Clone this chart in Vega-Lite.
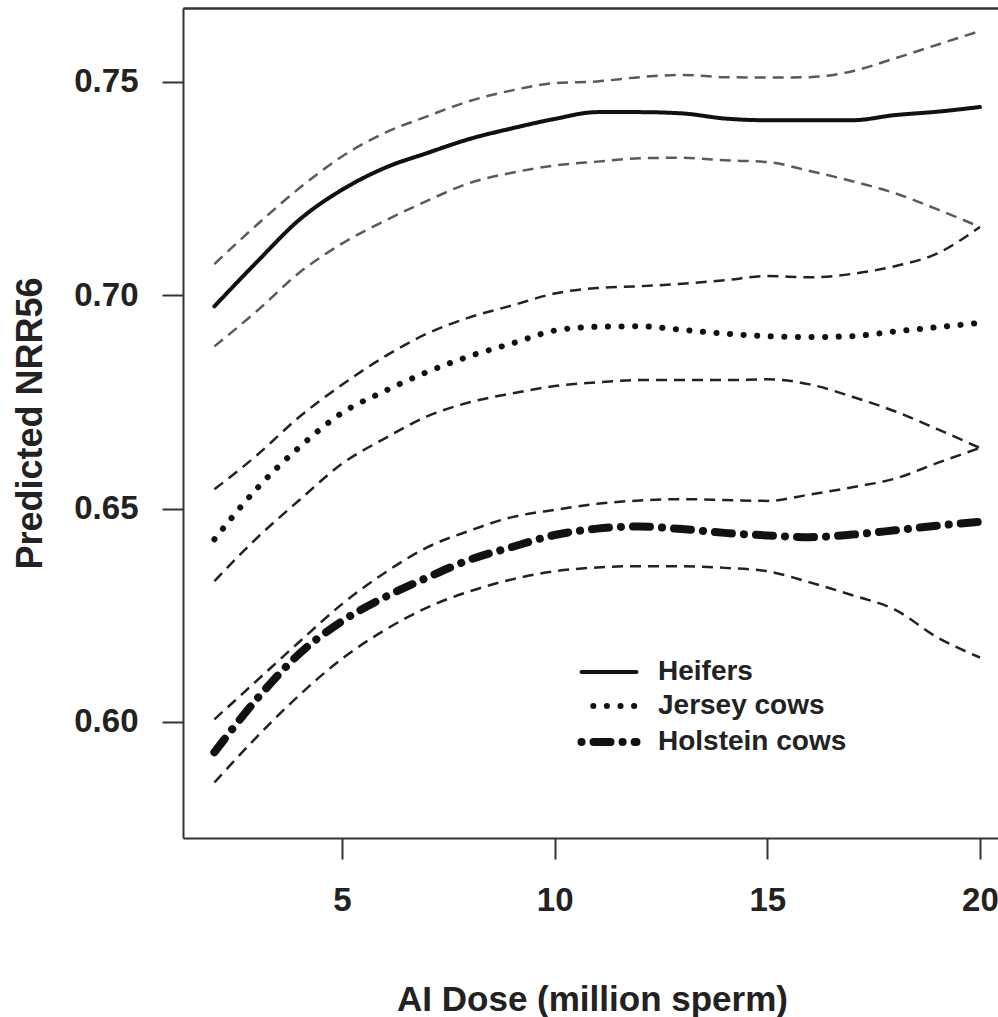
{
  "$schema": "https://vega.github.io/schema/vega-lite/v6.json",
  "width": 815,
  "height": 830,
  "autosize": "none",
  "padding": {"left": 183, "top": 8, "right": 0, "bottom": 179},
  "background": "white",
  "config": {
    "view": {"stroke": null},
    "font": "Liberation Sans",
    "axis": {"grid": false, "labelFont": "Liberation Sans", "titleFont": "Liberation Sans"}
  },
  "datasets": {
    "curves": [
      {"x":2,"y":0.6974,"s":"Heifers","k":"fit"},{"x":3,"y":0.7078,"s":"Heifers","k":"fit"},{"x":4,"y":0.7177,"s":"Heifers","k":"fit"},{"x":5,"y":0.7247,"s":"Heifers","k":"fit"},{"x":6,"y":0.7298,"s":"Heifers","k":"fit"},{"x":7,"y":0.7333,"s":"Heifers","k":"fit"},{"x":8,"y":0.7366,"s":"Heifers","k":"fit"},{"x":9,"y":0.7391,"s":"Heifers","k":"fit"},{"x":10,"y":0.7413,"s":"Heifers","k":"fit"},{"x":11,"y":0.7429,"s":"Heifers","k":"fit"},{"x":12,"y":0.7429,"s":"Heifers","k":"fit"},{"x":13,"y":0.7426,"s":"Heifers","k":"fit"},{"x":14,"y":0.7414,"s":"Heifers","k":"fit"},{"x":15,"y":0.7410,"s":"Heifers","k":"fit"},{"x":16,"y":0.7410,"s":"Heifers","k":"fit"},{"x":17,"y":0.7410,"s":"Heifers","k":"fit"},{"x":18,"y":0.7422,"s":"Heifers","k":"fit"},{"x":19,"y":0.7430,"s":"Heifers","k":"fit"},{"x":20,"y":0.7441,"s":"Heifers","k":"fit"},
      {"x":2,"y":0.7073,"s":"Heifers","k":"hi"},{"x":3,"y":0.7165,"s":"Heifers","k":"hi"},{"x":4,"y":0.7251,"s":"Heifers","k":"hi"},{"x":5,"y":0.7325,"s":"Heifers","k":"hi"},{"x":6,"y":0.7380,"s":"Heifers","k":"hi"},{"x":7,"y":0.7419,"s":"Heifers","k":"hi"},{"x":8,"y":0.7455,"s":"Heifers","k":"hi"},{"x":9,"y":0.7480,"s":"Heifers","k":"hi"},{"x":10,"y":0.7497,"s":"Heifers","k":"hi"},{"x":11,"y":0.7501,"s":"Heifers","k":"hi"},{"x":12,"y":0.7511,"s":"Heifers","k":"hi"},{"x":13,"y":0.7516,"s":"Heifers","k":"hi"},{"x":14,"y":0.7511,"s":"Heifers","k":"hi"},{"x":15,"y":0.7510,"s":"Heifers","k":"hi"},{"x":16,"y":0.7511,"s":"Heifers","k":"hi"},{"x":17,"y":0.7525,"s":"Heifers","k":"hi"},{"x":18,"y":0.7555,"s":"Heifers","k":"hi"},{"x":19,"y":0.7587,"s":"Heifers","k":"hi"},{"x":20,"y":0.7619,"s":"Heifers","k":"hi"},
      {"x":2,"y":0.6880,"s":"Heifers","k":"lo"},{"x":3,"y":0.6963,"s":"Heifers","k":"lo"},{"x":4,"y":0.7053,"s":"Heifers","k":"lo"},{"x":5,"y":0.7121,"s":"Heifers","k":"lo"},{"x":6,"y":0.7174,"s":"Heifers","k":"lo"},{"x":7,"y":0.7221,"s":"Heifers","k":"lo"},{"x":8,"y":0.7263,"s":"Heifers","k":"lo"},{"x":9,"y":0.7287,"s":"Heifers","k":"lo"},{"x":10,"y":0.7304,"s":"Heifers","k":"lo"},{"x":11,"y":0.7313,"s":"Heifers","k":"lo"},{"x":12,"y":0.7321,"s":"Heifers","k":"lo"},{"x":13,"y":0.7322,"s":"Heifers","k":"lo"},{"x":14,"y":0.7316,"s":"Heifers","k":"lo"},{"x":15,"y":0.7312,"s":"Heifers","k":"lo"},{"x":16,"y":0.7291,"s":"Heifers","k":"lo"},{"x":17,"y":0.7267,"s":"Heifers","k":"lo"},{"x":18,"y":0.7239,"s":"Heifers","k":"lo"},{"x":19,"y":0.7201,"s":"Heifers","k":"lo"},{"x":20,"y":0.7160,"s":"Heifers","k":"lo"},
      {"x":2,"y":0.6428,"s":"Jersey cows","k":"fit"},{"x":3,"y":0.6547,"s":"Jersey cows","k":"fit"},{"x":4,"y":0.6644,"s":"Jersey cows","k":"fit"},{"x":5,"y":0.6724,"s":"Jersey cows","k":"fit"},{"x":6,"y":0.6775,"s":"Jersey cows","k":"fit"},{"x":7,"y":0.6820,"s":"Jersey cows","k":"fit"},{"x":8,"y":0.6857,"s":"Jersey cows","k":"fit"},{"x":9,"y":0.6887,"s":"Jersey cows","k":"fit"},{"x":10,"y":0.6917,"s":"Jersey cows","k":"fit"},{"x":11,"y":0.6926,"s":"Jersey cows","k":"fit"},{"x":12,"y":0.6927,"s":"Jersey cows","k":"fit"},{"x":13,"y":0.6919,"s":"Jersey cows","k":"fit"},{"x":14,"y":0.6910,"s":"Jersey cows","k":"fit"},{"x":15,"y":0.6904,"s":"Jersey cows","k":"fit"},{"x":16,"y":0.6902,"s":"Jersey cows","k":"fit"},{"x":17,"y":0.6904,"s":"Jersey cows","k":"fit"},{"x":18,"y":0.6915,"s":"Jersey cows","k":"fit"},{"x":19,"y":0.6925,"s":"Jersey cows","k":"fit"},{"x":20,"y":0.6935,"s":"Jersey cows","k":"fit"},
      {"x":2,"y":0.6545,"s":"Jersey cows","k":"hi"},{"x":3,"y":0.6625,"s":"Jersey cows","k":"hi"},{"x":4,"y":0.6715,"s":"Jersey cows","k":"hi"},{"x":5,"y":0.6790,"s":"Jersey cows","k":"hi"},{"x":6,"y":0.6856,"s":"Jersey cows","k":"hi"},{"x":7,"y":0.6910,"s":"Jersey cows","k":"hi"},{"x":8,"y":0.6948,"s":"Jersey cows","k":"hi"},{"x":9,"y":0.6976,"s":"Jersey cows","k":"hi"},{"x":10,"y":0.7004,"s":"Jersey cows","k":"hi"},{"x":11,"y":0.7017,"s":"Jersey cows","k":"hi"},{"x":12,"y":0.7021,"s":"Jersey cows","k":"hi"},{"x":13,"y":0.7027,"s":"Jersey cows","k":"hi"},{"x":14,"y":0.7035,"s":"Jersey cows","k":"hi"},{"x":15,"y":0.7045,"s":"Jersey cows","k":"hi"},{"x":16,"y":0.7042,"s":"Jersey cows","k":"hi"},{"x":17,"y":0.7050,"s":"Jersey cows","k":"hi"},{"x":18,"y":0.7068,"s":"Jersey cows","k":"hi"},{"x":19,"y":0.7098,"s":"Jersey cows","k":"hi"},{"x":20,"y":0.7160,"s":"Jersey cows","k":"hi"},
      {"x":2,"y":0.6330,"s":"Jersey cows","k":"lo"},{"x":3,"y":0.6431,"s":"Jersey cows","k":"lo"},{"x":4,"y":0.6520,"s":"Jersey cows","k":"lo"},{"x":5,"y":0.6605,"s":"Jersey cows","k":"lo"},{"x":6,"y":0.6664,"s":"Jersey cows","k":"lo"},{"x":7,"y":0.6716,"s":"Jersey cows","k":"lo"},{"x":8,"y":0.6749,"s":"Jersey cows","k":"lo"},{"x":9,"y":0.6770,"s":"Jersey cows","k":"lo"},{"x":10,"y":0.6787,"s":"Jersey cows","k":"lo"},{"x":11,"y":0.6796,"s":"Jersey cows","k":"lo"},{"x":12,"y":0.6801,"s":"Jersey cows","k":"lo"},{"x":13,"y":0.6801,"s":"Jersey cows","k":"lo"},{"x":14,"y":0.6801,"s":"Jersey cows","k":"lo"},{"x":15,"y":0.6803,"s":"Jersey cows","k":"lo"},{"x":16,"y":0.6791,"s":"Jersey cows","k":"lo"},{"x":17,"y":0.6762,"s":"Jersey cows","k":"lo"},{"x":18,"y":0.6728,"s":"Jersey cows","k":"lo"},{"x":19,"y":0.6686,"s":"Jersey cows","k":"lo"},{"x":20,"y":0.6642,"s":"Jersey cows","k":"lo"},
      {"x":2,"y":0.5929,"s":"Holstein cows","k":"fit"},{"x":3,"y":0.6054,"s":"Holstein cows","k":"fit"},{"x":4,"y":0.6160,"s":"Holstein cows","k":"fit"},{"x":5,"y":0.6236,"s":"Holstein cows","k":"fit"},{"x":6,"y":0.6292,"s":"Holstein cows","k":"fit"},{"x":7,"y":0.6338,"s":"Holstein cows","k":"fit"},{"x":8,"y":0.6380,"s":"Holstein cows","k":"fit"},{"x":9,"y":0.6410,"s":"Holstein cows","k":"fit"},{"x":10,"y":0.6438,"s":"Holstein cows","k":"fit"},{"x":11,"y":0.6453,"s":"Holstein cows","k":"fit"},{"x":12,"y":0.6458,"s":"Holstein cows","k":"fit"},{"x":13,"y":0.6452,"s":"Holstein cows","k":"fit"},{"x":14,"y":0.6443,"s":"Holstein cows","k":"fit"},{"x":15,"y":0.6437,"s":"Holstein cows","k":"fit"},{"x":16,"y":0.6433,"s":"Holstein cows","k":"fit"},{"x":17,"y":0.6439,"s":"Holstein cows","k":"fit"},{"x":18,"y":0.6449,"s":"Holstein cows","k":"fit"},{"x":19,"y":0.6460,"s":"Holstein cows","k":"fit"},{"x":20,"y":0.6469,"s":"Holstein cows","k":"fit"},
      {"x":2,"y":0.6006,"s":"Holstein cows","k":"hi"},{"x":3,"y":0.6097,"s":"Holstein cows","k":"hi"},{"x":4,"y":0.6188,"s":"Holstein cows","k":"hi"},{"x":5,"y":0.6276,"s":"Holstein cows","k":"hi"},{"x":6,"y":0.6349,"s":"Holstein cows","k":"hi"},{"x":7,"y":0.6409,"s":"Holstein cows","k":"hi"},{"x":8,"y":0.6448,"s":"Holstein cows","k":"hi"},{"x":9,"y":0.6480,"s":"Holstein cows","k":"hi"},{"x":10,"y":0.6497,"s":"Holstein cows","k":"hi"},{"x":11,"y":0.6511,"s":"Holstein cows","k":"hi"},{"x":12,"y":0.6519,"s":"Holstein cows","k":"hi"},{"x":13,"y":0.6522,"s":"Holstein cows","k":"hi"},{"x":14,"y":0.6520,"s":"Holstein cows","k":"hi"},{"x":15,"y":0.6518,"s":"Holstein cows","k":"hi"},{"x":16,"y":0.6533,"s":"Holstein cows","k":"hi"},{"x":17,"y":0.6550,"s":"Holstein cows","k":"hi"},{"x":18,"y":0.6570,"s":"Holstein cows","k":"hi"},{"x":19,"y":0.6607,"s":"Holstein cows","k":"hi"},{"x":20,"y":0.6642,"s":"Holstein cows","k":"hi"},
      {"x":2,"y":0.5858,"s":"Holstein cows","k":"lo"},{"x":3,"y":0.5965,"s":"Holstein cows","k":"lo"},{"x":4,"y":0.6063,"s":"Holstein cows","k":"lo"},{"x":5,"y":0.6148,"s":"Holstein cows","k":"lo"},{"x":6,"y":0.6215,"s":"Holstein cows","k":"lo"},{"x":7,"y":0.6268,"s":"Holstein cows","k":"lo"},{"x":8,"y":0.6306,"s":"Holstein cows","k":"lo"},{"x":9,"y":0.6334,"s":"Holstein cows","k":"lo"},{"x":10,"y":0.6353,"s":"Holstein cows","k":"lo"},{"x":11,"y":0.6362,"s":"Holstein cows","k":"lo"},{"x":12,"y":0.6365,"s":"Holstein cows","k":"lo"},{"x":13,"y":0.6365,"s":"Holstein cows","k":"lo"},{"x":14,"y":0.6361,"s":"Holstein cows","k":"lo"},{"x":15,"y":0.6353,"s":"Holstein cows","k":"lo"},{"x":16,"y":0.6327,"s":"Holstein cows","k":"lo"},{"x":17,"y":0.6297,"s":"Holstein cows","k":"lo"},{"x":18,"y":0.6263,"s":"Holstein cows","k":"lo"},{"x":19,"y":0.6198,"s":"Holstein cows","k":"lo"},{"x":20,"y":0.6151,"s":"Holstein cows","k":"lo"}
    ]
  },
  "data": {"name": "curves"},
  "encoding": {
    "y": {"field": "y", "type": "quantitative", "scale": {"domain": [0.5728, 0.7673], "nice": false, "zero": false},
          "axis": {"orient": "left", "values": [0.6, 0.65, 0.7, 0.75], "format": ".2f", "labelFontSize": 33, "labelFontWeight": "bold", "labelColor": "#222",
                   "tickSize": 21, "tickWidth": 2, "tickColor": "#333", "domainColor": "#333", "domainWidth": 2, "labelPadding": 24,
                   "title": "Predicted NRR56", "titleFontSize": 36, "titleFontWeight": "bold", "titleColor": "#222",
                   "titleX": -142, "titleY": 415, "titleAngle": -90, "titleBaseline": "alphabetic", "titleAlign": "center"}}
  },
  "layer": [
    {
      "transform": [{"filter": "datum.k == 'fit'"}],
      "mark": {"type": "line", "interpolate": "monotone", "strokeCap": "round", "color": "#111111"},
      "encoding": {
        "x": {"field": "x", "type": "quantitative", "scale": {"domain": [1.262, 20.424], "nice": false, "zero": false},
              "axis": {"orient": "bottom", "values": [5, 10, 15, 20], "labelFontSize": 33, "labelFontWeight": "bold", "labelColor": "#222", "labelFlush": false,
                       "tickSize": 21, "tickWidth": 2, "tickColor": "#333", "domainColor": "#333", "domainWidth": 2, "labelPadding": 25,
                       "title": "AI Dose (million sperm)", "titleFontSize": 35, "titleFontWeight": "bold", "titleColor": "#222",
                       "titleX": 409, "titleY": 172, "titleBaseline": "alphabetic", "titleAlign": "center"}},
        "strokeDash": {"field": "s", "type": "nominal",
                       "scale": {"domain": ["Heifers", "Jersey cows", "Holstein cows"], "range": [[1, 0], [0.1, 13.5], [17, 12, 0.1, 12]]},
                       "legend": {"orient": "none", "legendX": 411, "legendY": 650, "title": null, "labelFontSize": 28, "labelFontWeight": "bold",
                                  "labelFont": "Liberation Sans", "labelColor": "#222", "labelLimit": 500, "symbolType": "M-2.5,0L2.5,0", "symbolSize": 484,
                                  "symbolStrokeColor": "#111111", "labelOffset": 34, "rowPadding": 6, "symbolDashOffset": 29.05,
                                  "encode": {"symbols": {"update": {"strokeCap": {"value": "round"}}}}}},
        "strokeWidth": {"field": "s", "type": "nominal",
                        "scale": {"domain": ["Heifers", "Jersey cows", "Holstein cows"], "range": [4, 8, 4]},
                        "legend": {"orient": "none", "legendX": 411, "legendY": 650, "title": null, "labelFontSize": 28, "labelFontWeight": "bold",
                                   "labelFont": "Liberation Sans", "labelColor": "#222", "labelLimit": 500, "symbolType": "M-2.5,0L2.5,0", "symbolSize": 484,
                                   "symbolStrokeColor": "#111111", "labelOffset": 34, "rowPadding": 6, "symbolDashOffset": 29.05,
                                   "encode": {"symbols": {"update": {"strokeCap": {"value": "round"}}}}}}
      }
    },
    {
      "transform": [{"filter": "datum.k != 'fit' && datum.s == 'Heifers'"}],
      "mark": {"type": "line", "interpolate": "monotone", "strokeWidth": 2.5, "strokeDash": [11, 7], "color": "#5a5a5a"},
      "encoding": {
        "x": {"field": "x", "type": "quantitative",
              "axis": {"orient": "top", "labels": false, "ticks": false, "title": null, "domain": true, "domainWidth": 2, "domainColor": "#333", "grid": false}},
        "detail": {"field": "k"}
      }
    },
    {
      "transform": [{"filter": "datum.k != 'fit' && datum.s != 'Heifers'"}],
      "mark": {"type": "line", "interpolate": "monotone", "strokeWidth": 2.5, "strokeDash": [11, 7], "color": "#222222"},
      "encoding": {
        "x": {"field": "x", "type": "quantitative",
              "axis": {"orient": "top", "labels": false, "ticks": false, "title": null, "domain": true, "domainWidth": 2, "domainColor": "#333", "grid": false}},
        "detail": [{"field": "s"}, {"field": "k"}]
      }
    }
  ]
}
